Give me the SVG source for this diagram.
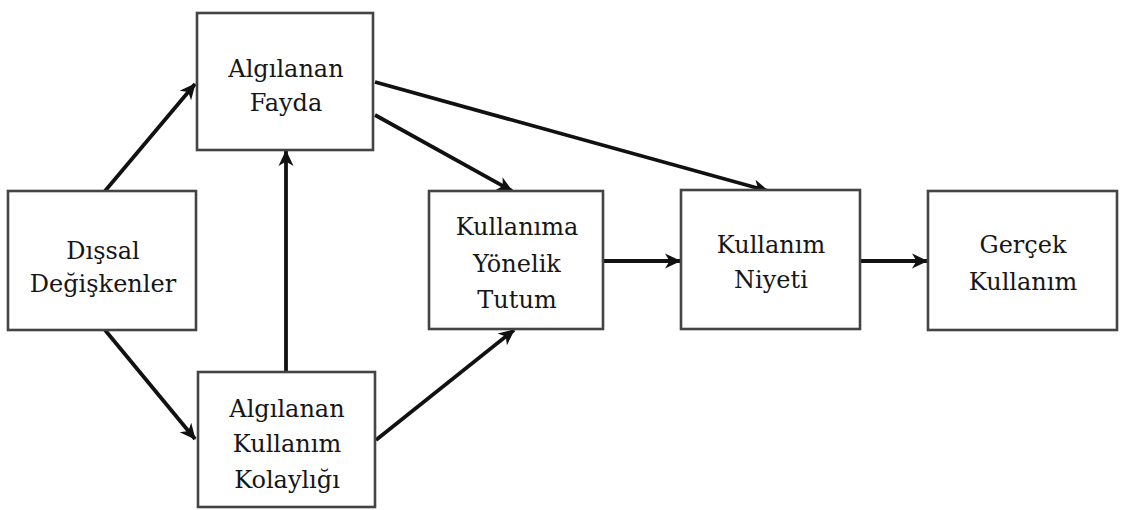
<svg xmlns="http://www.w3.org/2000/svg" width="1121" height="510" viewBox="0 0 1121 510">
<style>
.box{fill:#fff;stroke:#444;stroke-width:2.6}
.t{font-family:'DejaVu Serif',serif;font-size:24px;fill:#161616;text-anchor:middle}
.c{stroke:#111;stroke-width:3.8;fill:none;marker-end:url(#ah)}
</style>
<defs>
<marker id="ah" markerUnits="userSpaceOnUse" markerWidth="18" markerHeight="18" refX="15" refY="9" orient="auto">
<path d="M0,1.5 L16,9 L0,16.5 L4.5,9 z" fill="#111"/>
</marker>
</defs>
<g id="connectors">
<line class="c" x1="105" y1="191" x2="195" y2="84"/>
<line class="c" x1="105" y1="330" x2="195" y2="439"/>
<line class="c" x1="286" y1="372" x2="286" y2="151"/>
<line class="c" x1="375" y1="82" x2="768" y2="191"/>
<line class="c" x1="375" y1="115" x2="512" y2="191"/>
<line class="c" x1="376" y1="440" x2="514" y2="330"/>
<line class="c" x1="604" y1="261" x2="680" y2="261"/>
<line class="c" x1="861" y1="261" x2="927" y2="261"/>
</g>
<g id="fayda">
<rect class="box" x="197" y="13" width="176" height="137"/>
<text class="t" x="286" y="77">Algılanan</text>
<text class="t" x="286" y="111">Fayda</text>
</g>
<g id="dissal">
<rect class="box" x="8" y="191" width="188" height="139"/>
<text class="t" x="103" y="259">Dışsal</text>
<text class="t" x="103" y="292">Değişkenler</text>
</g>
<g id="kolaylik">
<rect class="box" x="198" y="372" width="177" height="135"/>
<text class="t" x="287" y="417">Algılanan</text>
<text class="t" x="287" y="452">Kullanım</text>
<text class="t" x="287" y="488">Kolaylığı</text>
</g>
<g id="tutum">
<rect class="box" x="429" y="191" width="174" height="138"/>
<text class="t" x="517" y="235">Kullanıma</text>
<text class="t" x="517" y="272">Yönelik</text>
<text class="t" x="517" y="308">Tutum</text>
</g>
<g id="niyet">
<rect class="box" x="681" y="190" width="179" height="139"/>
<text class="t" x="771" y="253">Kullanım</text>
<text class="t" x="771" y="288">Niyeti</text>
</g>
<g id="gercek">
<rect class="box" x="928" y="191" width="189" height="139"/>
<text class="t" x="1023" y="253">Gerçek</text>
<text class="t" x="1023" y="290">Kullanım</text>
</g>
</svg>
